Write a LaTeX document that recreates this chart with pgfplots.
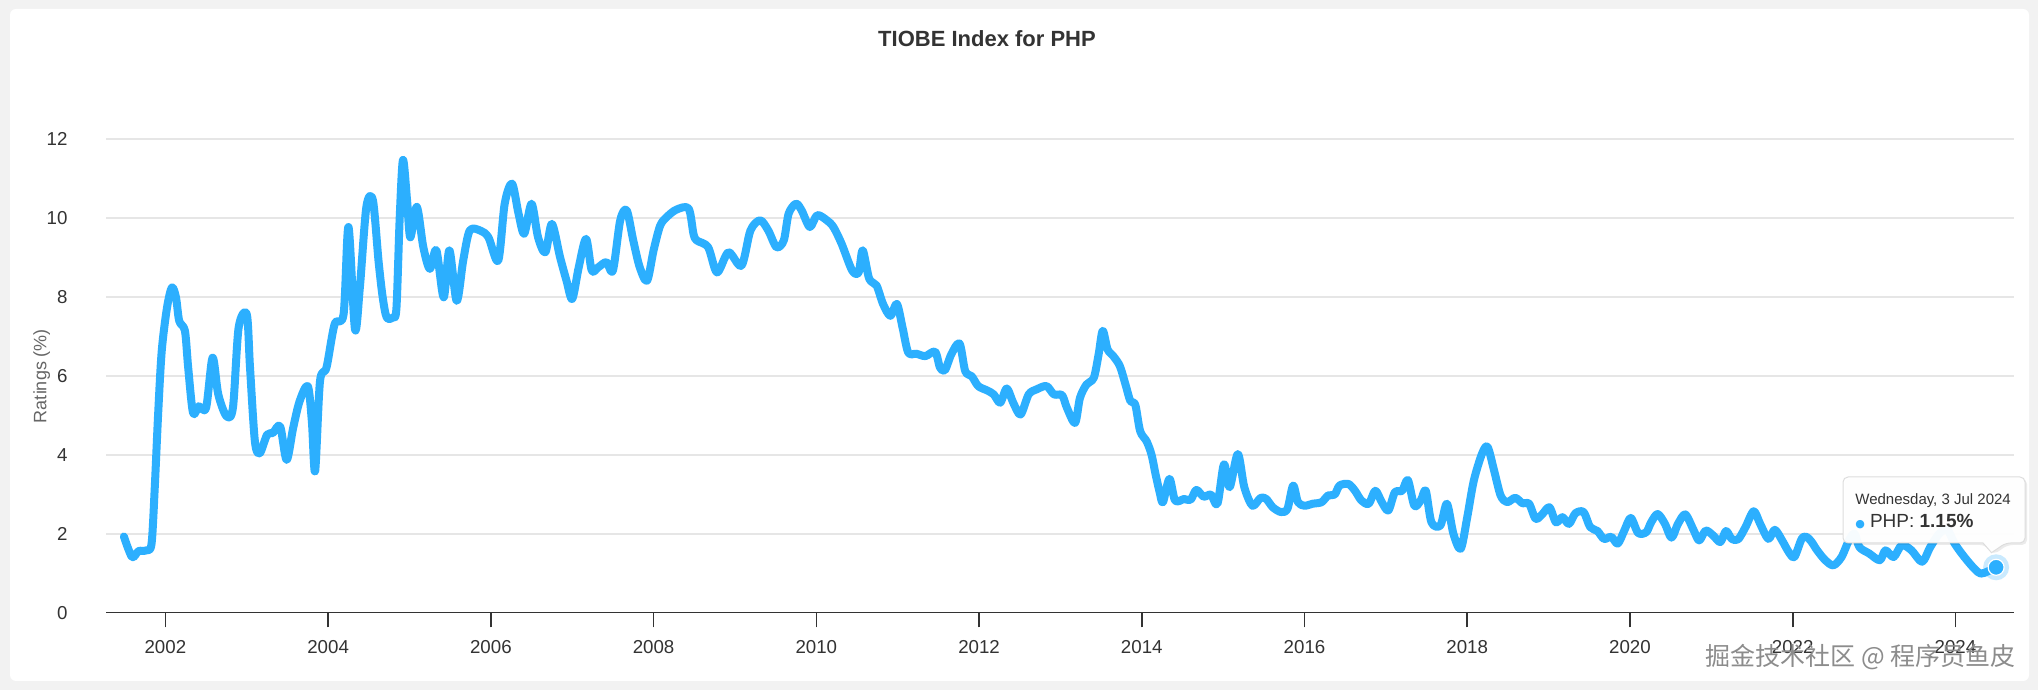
\documentclass[border=0pt]{standalone}
\usepackage{pgfplots}
\pgfplotsset{compat=1.18}
\usepackage{fontspec}
\setmainfont{Liberation Sans}
\newfontfamily\cjk{Noto Sans CJK SC}
\newfontfamily\dejavu{DejaVu Sans}
\definecolor{hcblue}{HTML}{2CAFFE}
\definecolor{bggray}{HTML}{F2F2F2}
\definecolor{gridc}{HTML}{E6E6E6}
\definecolor{axc}{HTML}{333333}
\definecolor{labc}{HTML}{666666}
\definecolor{wmc}{HTML}{8C8C8C}
\definecolor{tipb}{HTML}{DDDDDD}

\pgfplotstableread{
x y
2001.49 1.93
2001.59 1.41
2001.67 1.56
2001.77 1.58
2001.83 1.75
2001.87 3.20
2001.91 5.00
2001.955 6.63
2002.02 7.73
2002.08 8.24
2002.13 7.99
2002.17 7.39
2002.24 7.14
2002.28 6.21
2002.34 5.06
2002.41 5.23
2002.50 5.19
2002.58 6.46
2002.65 5.53
2002.75 4.98
2002.83 5.19
2002.90 7.22
2003.00 7.56
2003.04 6.21
2003.10 4.34
2003.16 4.04
2003.25 4.51
2003.32 4.55
2003.41 4.72
2003.49 3.87
2003.57 4.68
2003.65 5.36
2003.75 5.74
2003.80 4.85
2003.84 3.58
2003.90 5.86
2003.98 6.21
2004.08 7.31
2004.19 7.56
2004.25 9.77
2004.33 7.18
2004.39 8.24
2004.47 10.28
2004.55 10.45
2004.62 8.90
2004.67 8.00
2004.72 7.48
2004.80 7.48
2004.84 7.73
2004.88 10.02
2004.92 11.47
2004.97 10.45
2005.01 9.51
2005.09 10.28
2005.17 9.26
2005.25 8.71
2005.33 9.18
2005.42 7.99
2005.49 9.18
2005.58 7.90
2005.66 8.92
2005.74 9.68
2005.87 9.68
2005.97 9.51
2006.09 8.92
2006.17 10.36
2006.26 10.87
2006.34 10.11
2006.41 9.60
2006.50 10.36
2006.58 9.51
2006.67 9.13
2006.75 9.85
2006.85 9.01
2006.93 8.41
2007.00 7.95
2007.08 8.75
2007.17 9.47
2007.24 8.67
2007.32 8.75
2007.42 8.88
2007.50 8.67
2007.59 9.94
2007.67 10.19
2007.75 9.43
2007.83 8.75
2007.92 8.41
2008.00 9.18
2008.08 9.80
2008.16 10.02
2008.28 10.21
2008.43 10.24
2008.49 9.60
2008.53 9.43
2008.67 9.26
2008.78 8.62
2008.92 9.13
2009.08 8.79
2009.19 9.68
2009.31 9.94
2009.41 9.68
2009.51 9.26
2009.60 9.43
2009.66 10.11
2009.75 10.36
2009.82 10.19
2009.92 9.77
2010.01 10.07
2010.13 9.94
2010.21 9.77
2010.31 9.35
2010.44 8.67
2010.52 8.62
2010.57 9.18
2010.65 8.46
2010.74 8.29
2010.82 7.82
2010.91 7.52
2010.99 7.82
2011.06 7.22
2011.13 6.59
2011.23 6.56
2011.34 6.50
2011.46 6.61
2011.52 6.21
2011.58 6.14
2011.66 6.55
2011.76 6.82
2011.83 6.12
2011.91 5.99
2011.99 5.74
2012.10 5.63
2012.18 5.53
2012.26 5.32
2012.34 5.68
2012.42 5.32
2012.51 5.02
2012.61 5.53
2012.71 5.66
2012.83 5.74
2012.92 5.53
2013.02 5.51
2013.08 5.19
2013.18 4.81
2013.24 5.44
2013.32 5.78
2013.41 5.95
2013.47 6.55
2013.52 7.14
2013.58 6.67
2013.65 6.50
2013.73 6.25
2013.80 5.78
2013.86 5.36
2013.92 5.27
2013.98 4.60
2014.06 4.34
2014.12 4.00
2014.17 3.50
2014.22 3.05
2014.26 2.80
2014.34 3.39
2014.41 2.84
2014.52 2.88
2014.60 2.86
2014.67 3.11
2014.76 2.94
2014.85 2.99
2014.93 2.76
2015.01 3.76
2015.08 3.18
2015.18 4.02
2015.26 3.18
2015.36 2.71
2015.46 2.91
2015.53 2.88
2015.61 2.67
2015.71 2.55
2015.79 2.63
2015.86 3.22
2015.92 2.80
2016.00 2.71
2016.10 2.76
2016.21 2.80
2016.29 2.97
2016.37 2.99
2016.43 3.22
2016.54 3.26
2016.62 3.09
2016.70 2.84
2016.79 2.76
2016.87 3.09
2016.95 2.80
2017.03 2.59
2017.11 3.05
2017.20 3.09
2017.27 3.36
2017.35 2.71
2017.43 2.85
2017.49 3.09
2017.56 2.29
2017.67 2.21
2017.75 2.76
2017.83 2.00
2017.92 1.62
2018.00 2.42
2018.08 3.34
2018.18 4.02
2018.25 4.20
2018.33 3.60
2018.41 2.97
2018.49 2.80
2018.59 2.91
2018.68 2.77
2018.76 2.76
2018.84 2.38
2018.92 2.49
2019.01 2.67
2019.09 2.29
2019.17 2.42
2019.25 2.25
2019.33 2.52
2019.43 2.55
2019.51 2.17
2019.60 2.07
2019.68 1.87
2019.77 1.92
2019.85 1.75
2019.93 2.08
2020.01 2.40
2020.10 2.02
2020.20 2.04
2020.26 2.29
2020.34 2.50
2020.43 2.25
2020.51 1.90
2020.59 2.25
2020.68 2.49
2020.78 2.10
2020.85 1.83
2020.93 2.08
2021.02 1.96
2021.11 1.79
2021.18 2.07
2021.25 1.87
2021.33 1.86
2021.42 2.17
2021.52 2.57
2021.60 2.25
2021.70 1.87
2021.78 2.10
2021.87 1.83
2021.95 1.54
2022.02 1.41
2022.11 1.87
2022.17 1.92
2022.23 1.80
2022.30 1.58
2022.40 1.33
2022.50 1.20
2022.60 1.41
2022.69 1.83
2022.76 2.00
2022.82 1.66
2022.94 1.50
2023.07 1.33
2023.14 1.58
2023.24 1.41
2023.34 1.71
2023.46 1.58
2023.59 1.29
2023.69 1.66
2023.80 2.00
2023.90 2.10
2023.99 1.75
2024.11 1.41
2024.23 1.12
2024.31 0.99
2024.40 1.05
2024.50 1.15
}\phpdata

\begin{document}
\begin{tikzpicture}[x=1pt,y=1pt]
\fill[bggray] (0,0) rectangle (1019,345);
\fill[white, rounded corners=3pt] (5,4.5) rectangle (1014.5,340.5);
\begin{axis}[
  at={(53pt,38.65pt)}, anchor=south west,
  scale only axis, width=954pt, height=236.85pt,
  xmin=2001.27, xmax=2024.72, ymin=0, ymax=12,
  axis line style={draw=none},
  xtick={2002,2004,2006,2008,2010,2012,2014,2016,2018,2020,2022,2024},
  xticklabels={2002,2004,2006,2008,2010,2012,2014,2016,2018,2020,2022,2024},
  ytick={0,2,4,6,8,10,12},
  yticklabels={0,2,4,6,8,10,12},
  xtick pos=left, ytick pos=left,
  tick align=outside,
  major tick length=7.35pt,
  xtick style={draw=axc, line width=0.8pt},
  ytick style={draw=none},
  ymajorgrids, grid style={draw=gridc, line width=0.8pt},
  xticklabel shift=3pt,
  yticklabel shift=8.4pt,
  ticklabel style={font=\fontsize{9.35}{11}\selectfont, text=axc},
  clip=false,
]
\addplot[color=hcblue, line width=4pt, smooth, tension=0.5, line join=round, line cap=round] table[x=x,y=y] {\phpdata};
\draw[axc, line width=0.8pt] (rel axis cs:0,0) -- (rel axis cs:1,0);
\addplot[only marks, mark=*, mark size=6.5pt, color=hcblue, fill opacity=0.25, draw opacity=0] coordinates {(2024.5,1.15)};
\addplot[only marks, mark=*, mark size=4pt, fill=hcblue, draw=white, line width=0.6pt] coordinates {(2024.5,1.15)};
\end{axis}
% title
\node[font=\bfseries\fontsize{11}{13}\selectfont, text=axc] at (493.5,325.5) {TIOBE Index for PHP};
% y label
\node[rotate=90, font=\fontsize{9}{11}\selectfont, text=labc] at (20.85,157) {Ratings (\%)};
% tooltip
\fill[black, opacity=0.08, rounded corners=2.5pt] (922.5,105.5) -- (1013.5,105.5) -- (1013.5,72.5) -- (1003.85,72.5) -- (996.75,67.65) -- (992.5,72.5) -- (922.5,72.5) -- cycle;
\filldraw[fill=white, fill opacity=0.96, draw=tipb, line width=0.5pt, rounded corners=2.5pt]
  (921.5,106.5) -- (1012.5,106.5) -- (1012.5,73.5) -- (1002.85,73.5) [sharp corners] -- (995.75,68.65) -- (991.5,73.5) [rounded corners=2.5pt] -- (921.5,73.5) -- cycle;
\node[anchor=base west, inner sep=0pt, font=\fontsize{7.5}{9}\selectfont, text=axc] at (927.5,92.5) {Wednesday, 3 Jul 2024};
\node[anchor=base west, inner sep=0pt, font=\fontsize{9.5}{11}\selectfont, text=axc] at (927.5,81.35) {{\dejavu\fontsize{5.5}{6}\selectfont\textcolor{hcblue}{●}}\hspace{2.5pt}PHP: \textbf{1.15\%}};
% watermark
\node[anchor=base east, inner sep=0pt, font=\cjk\fontsize{12.5}{14}\selectfont, text=wmc] at (1008,12.5) {掘金技术社区 @ 程序员鱼皮};
\pgfresetboundingbox
\path[use as bounding box] (0,0) rectangle (1019,345);
\end{tikzpicture}
\end{document}
